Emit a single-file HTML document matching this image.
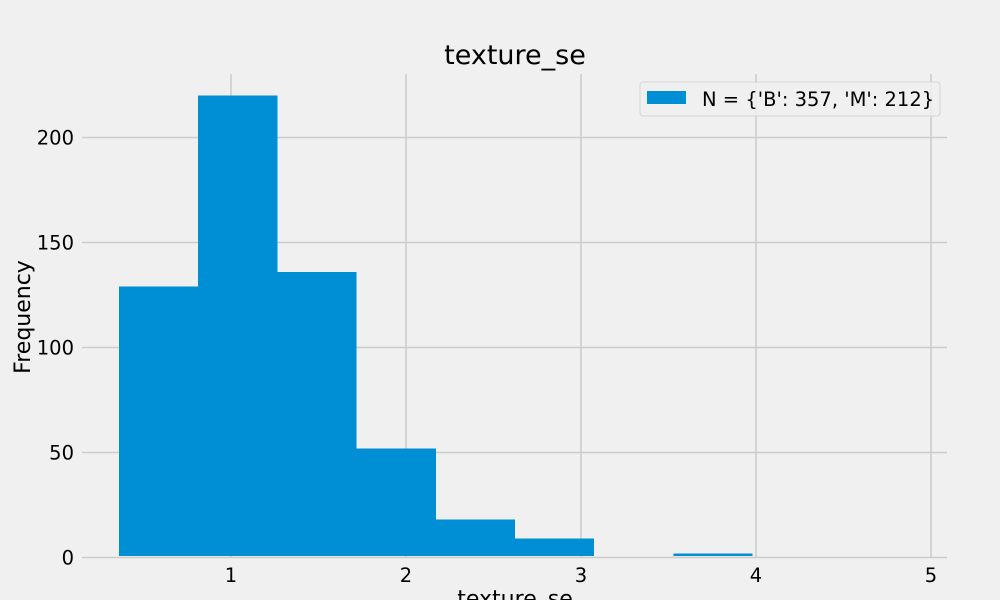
<!DOCTYPE html>
<html><head><meta charset="utf-8"><style>body{margin:0;background:#f0f0f0}svg{display:block;font-family:"DejaVu Sans","Liberation Sans",sans-serif}</style></head>
<body>
<svg id="chart" width="1000" height="600" viewBox="0 0 1000 600">
<rect width="1000" height="600" fill="#f0f0f0"/>
<g id="grid"></g><g id="bars" shape-rendering="crispEdges"></g><g id="ticks"></g>
<text x="515" y="64" text-anchor="middle" font-size="27" fill="#000">texture_se</text>
<text x="515" y="606" text-anchor="middle" font-size="22" fill="#000">texture_se</text>
<text transform="translate(30,317) rotate(-90)" text-anchor="middle" font-size="22" fill="#000">Frequency</text>
<g>
<rect x="640" y="82" width="300" height="34" rx="3" fill="#f0f0f0" fill-opacity="0.8" stroke="#d6d6d6"/>
<rect x="647" y="91" width="39" height="13" fill="#008fd5"/>
<text x="702" y="106" font-size="19.5" fill="#000">N = {'B': 357, 'M': 212}</text>
</g>
</svg>
<script>
const binStart = 0.3602;
const binWidth = 0.45248;
const counts = [129, 220, 136, 52, 18, 9, 0, 2, 0, 0];
const xTicks = [1, 2, 3, 4, 5];
const yTicks = [0, 50, 100, 150, 200];
const NS = 'http://www.w3.org/2000/svg';
const xs = v => 56 + v * 175;
const ys = v => 557.5 - v * 2.1;
function mk(tag, attrs, parent, text) {
  const e = document.createElementNS(NS, tag);
  for (const k in attrs) e.setAttribute(k, attrs[k]);
  if (text !== undefined) e.textContent = text;
  document.getElementById(parent).appendChild(e);
  return e;
}
yTicks.forEach(t => {
  const l = mk('line', {x1: 82, x2: 947, y1: ys(t), y2: ys(t), stroke: '#cbcbcb', 'stroke-width': 1.5}, 'grid');
  
  
  const tx = mk('text', {x: 74, y: ys(t) + 7, 'text-anchor': 'end', 'font-size': 19.5, fill: '#000'}, 'ticks', String(t));
  
  
});
xTicks.forEach(t => {
  const l = mk('line', {x1: xs(t), x2: xs(t), y1: 74, y2: 557, stroke: '#cbcbcb', 'stroke-width': 1.5}, 'grid');
  
  
  const tx = mk('text', {x: xs(t), y: 582, 'text-anchor': 'middle', 'font-size': 19.5, fill: '#000'}, 'ticks', String(t));
  
  
});
counts.forEach((c, i) => {
  if (c <= 0) return;
  const x0 = xs(binStart + i * binWidth), x1 = xs(binStart + (i + 1) * binWidth);
  const r = mk('rect', {x: x0, y: ys(c), width: x1 - x0, height: ys(0) - 1.5 - ys(c), fill: '#008fd5'}, 'bars');
  
  
});
</script>
</body></html>
